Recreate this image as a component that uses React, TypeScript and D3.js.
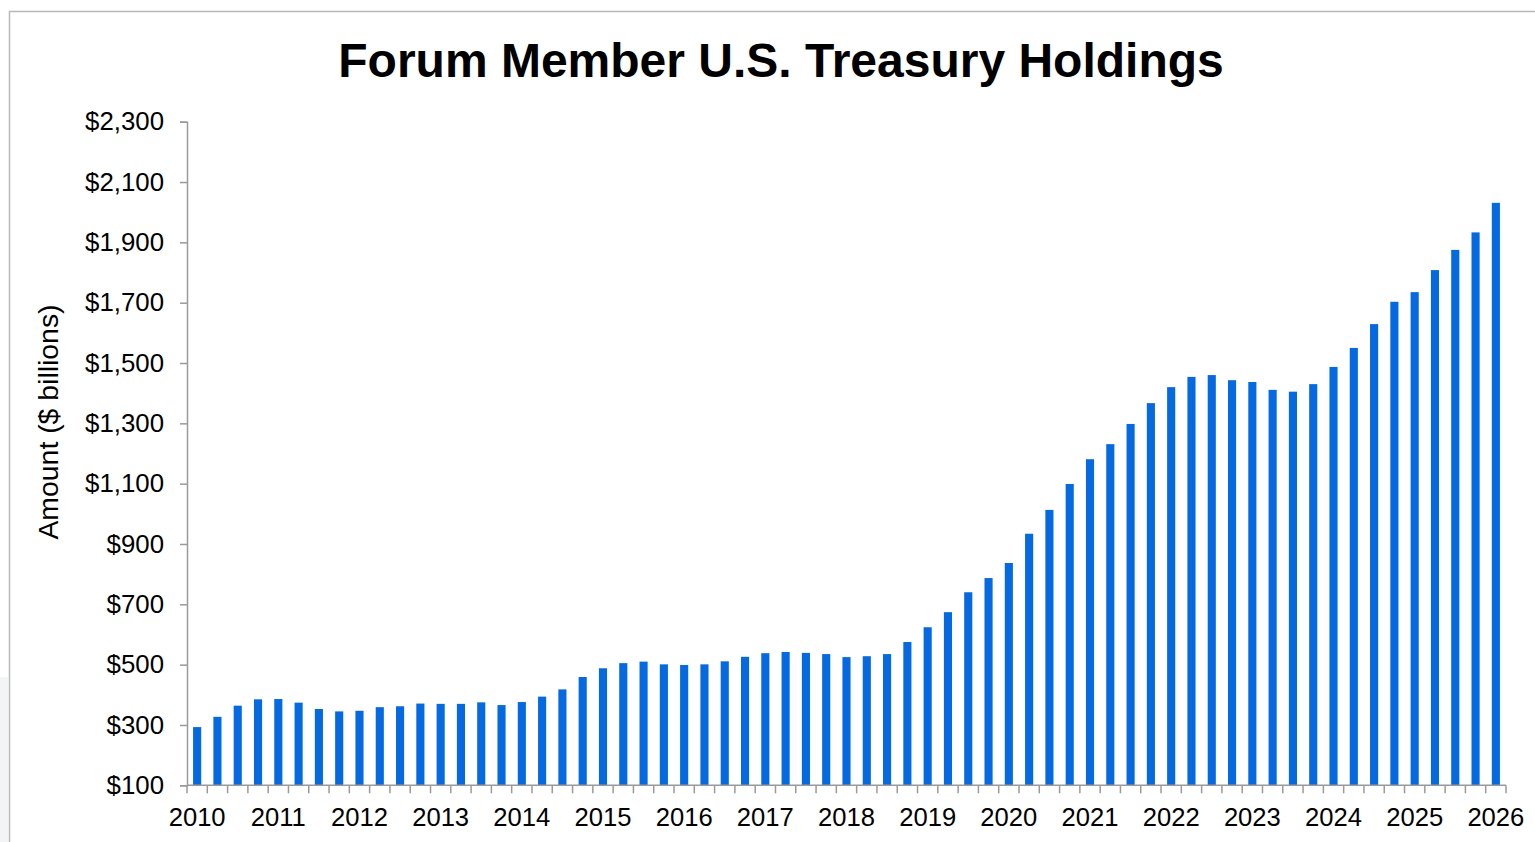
import React, { useEffect, useRef } from "react";
import * as d3 from "d3";

// Year tick labels (shown under the first quarter of each year)
const years = [
  "2010", "2011", "2012", "2013", "2014", "2015", "2016", "2017",
  "2018", "2019", "2020", "2021", "2022", "2023", "2024", "2025", "2026",
];
const quarterNames = ["Q1", "Q2", "Q3", "Q4"];

// Quarterly categories, 2010 Q1 .. 2026 Q1
const quarters = years.flatMap((y) =>
  y === "2026" ? [`${y} Q1`] : quarterNames.map((q) => `${y} ${q}`)
);

// Holdings, $ billions
const holdings = [
  293, 327, 364, 385,
  386, 374, 353, 345,
  347, 359, 362, 371,
  370, 370, 375, 366,
  376, 394, 418, 459,
  488, 505, 510, 501,
  499, 501, 511, 526,
  538, 542, 539, 535,
  525, 528, 535, 575,
  624, 674, 740, 787,
  837, 934, 1013, 1099,
  1181, 1231, 1298, 1367,
  1420, 1454, 1460, 1443,
  1437, 1411, 1405, 1430,
  1487, 1550, 1629, 1703,
  1735, 1808, 1875, 1933,
  2031,
];

const yTicks = [100, 300, 500, 700, 900, 1100, 1300, 1500, 1700, 1900, 2100, 2300];

const W = 1535;
const H = 842;
const FONT = "'Liberation Sans', Arial, sans-serif";

const App = () => {
  const ref = useRef<SVGSVGElement>(null);

  useEffect(() => {
    const svg = d3.select(ref.current);
    svg.selectAll("*").remove();

    const data = quarters.map((q, i) => ({ q, v: holdings[i] }));

    // frame
    svg.append("rect")
      .attr("x", 0).attr("y", 677).attr("width", 8).attr("height", H - 677)
      .attr("fill", "#f3f4f6");
    svg.append("path")
      .attr("d", `M9.5,${H} V11.5 H${W}`)
      .attr("fill", "none")
      .attr("stroke", "#b8b8b8")
      .attr("stroke-width", 1.5);

    const x = d3.scaleBand().domain(quarters).range([187, 1506]).paddingInner(0.6).paddingOuter(0.3);
    const y = d3.scaleLinear().domain([100, 2300]).range([785.3, 121.7]);

    // bars
    svg.append("g")
      .selectAll("rect")
      .data(data)
      .join("rect")
      .attr("x", (d) => x(d.q)!)
      .attr("y", (d) => y(d.v))
      .attr("width", x.bandwidth())
      .attr("height", (d) => y(100) - y(d.v))
      .attr("fill", "#0569e1");

    // x axis: ticks between quarters, year labels under Q1
    const xAxis = svg.append("g").attr("transform", `translate(0,${y(100)})`);
    const step = x.step();
    const edges = d3.range(quarters.length + 1).map((i) => 187 + i * step);
    xAxis.append("line")
      .attr("x1", 187).attr("x2", 1506)
      .attr("stroke", "#9a9a9a").attr("stroke-width", 1.5);
    xAxis.selectAll("line.tick")
      .data(edges)
      .join("line")
      .attr("class", "tick")
      .attr("x1", (d) => d).attr("x2", (d) => d)
      .attr("y1", 0).attr("y2", 8)
      .attr("stroke", "#9a9a9a").attr("stroke-width", 1.5);
    xAxis.selectAll("text")
      .data(years)
      .join("text")
      .attr("x", (d) => x(`${d} Q1`)! + x.bandwidth() / 2)
      .attr("y", 41)
      .attr("text-anchor", "middle")
      .style("font-family", FONT)
      .style("font-size", "25.6px")
      .attr("fill", "#000")
      .text((d) => d);

    // y axis
    const yAxis = d3.axisLeft(y)
      .tickValues(yTicks)
      .tickSize(7)
      .tickPadding(16)
      .tickFormat((d) => "$" + d3.format(",")(d as number));
    const gy = svg.append("g").attr("transform", "translate(187,0)").call(yAxis);
    gy.select(".domain").attr("stroke", "#9a9a9a").attr("stroke-width", 1.5);
    gy.selectAll(".tick line").attr("stroke", "#9a9a9a").attr("stroke-width", 1.5);
    gy.selectAll(".tick text")
      .style("font-family", FONT)
      .style("font-size", "25.8px")
      .attr("fill", "#000");

    // y axis title
    svg.append("text")
      .attr("transform", "translate(58,422) rotate(-90)")
      .attr("text-anchor", "middle")
      .style("font-family", FONT)
      .style("font-size", "28.4px")
      .attr("fill", "#000")
      .text("Amount ($ billions)");

    // title
    svg.append("text")
      .attr("x", 781)
      .attr("y", 77)
      .attr("text-anchor", "middle")
      .style("font-family", FONT)
      .style("font-size", "48px")
      .style("font-weight", "bold")
      .attr("fill", "#000")
      .text("Forum Member U.S. Treasury Holdings");
  }, []);

  return (
    <div style={{ position: "absolute", left: 0, top: 0, width: W, height: H, background: "#fff" }}>
      <svg ref={ref} width={W} height={H} style={{ display: "block" }}></svg>
    </div>
  );
};

export default App;
